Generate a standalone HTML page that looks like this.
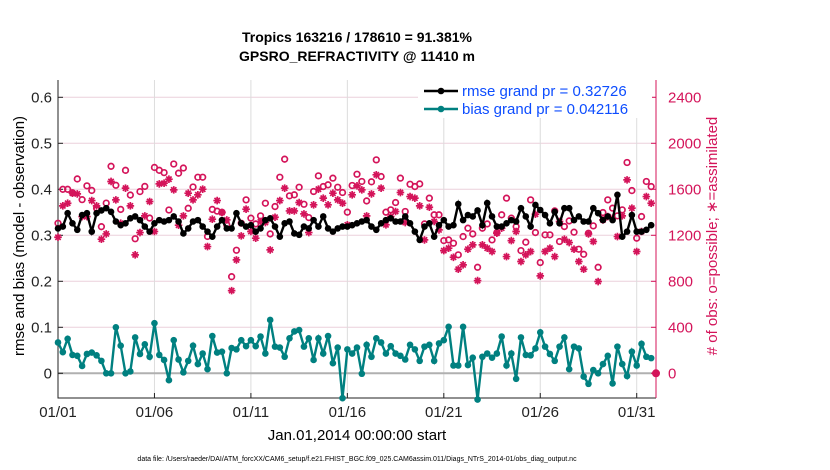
<!DOCTYPE html>
<html><head><meta charset="utf-8"><style>
body{margin:0;background:#fff;}
svg{display:block;font-family:"Liberation Sans",sans-serif;}
</style></head><body>
<svg id="chart" width="830" height="470" viewBox="0 0 830 470" xmlns="http://www.w3.org/2000/svg">
<rect x="0" y="0" width="830" height="470" fill="#fff"/>
<g id="grid"></g><g id="axes"></g><g id="marks"></g><g id="legend"></g>
<text x="357" y="42" text-anchor="middle" font-size="14" font-weight="bold">Tropics 163216 / 178610 = 91.381%</text>
<text x="357" y="61" text-anchor="middle" font-size="14" font-weight="bold">GPSRO_REFRACTIVITY @ 11410 m</text>
<text transform="translate(24,236) rotate(-90)" text-anchor="middle" font-size="15">rmse and bias (model - observation)</text>
<text transform="translate(717,236) rotate(-90)" text-anchor="middle" font-size="15" fill="#d4145a"># of obs: o=possible; ∗=assimilated</text>
<text x="357" y="440" text-anchor="middle" font-size="15">Jan.01,2014 00:00:00 start</text>
<text x="357" y="461" text-anchor="middle" font-size="7">data file: /Users/raeder/DAI/ATM_forcXX/CAM6_setup/f.e21.FHIST_BGC.f09_025.CAM6assim.011/Diags_NTrS_2014-01/obs_diag_output.nc</text>
</svg>
<script>
const rmse=[.315,.319,.348,.326,.312,.344,.348,.308,.348,.354,.359,.351,.330,.322,.326,.337,.341,.333,.319,.308,.326,.333,.330,.333,.341,.330,.304,.315,.330,.333,.319,.308,.297,.319,.333,.315,.315,.348,
.326,.319,.322,.308,.315,.333,.337,.319,.297,.326,.330,.304,.301,.319,.315,.333,.319,.341,.315,.308,.315,.319,.319,.322,.326,.330,.333,.319,.312,.326,.333,.337,.330,.330,.341,.326,.308,.290,.319,.326,.297,.322,.333,.319,
.322,.368,.333,.344,.341,.354,.322,.370,.341,.319,.319,.326,.333,.330,.359,.341,.319,.366,.355,.344,.326,.351,.326,.359,.359,.333,.341,.330,.330,.359,.348,.333,.341,.333,.388,.297,.308,.344,.308,.308,.312,.322];
const bias=[0.067,0.046,0.075,0.040,0.038,0.016,0.042,0.045,0.039,0.027,0.0,0.0,0.100,0.060,0.0,0.004,0.078,0.042,0.063,0.036,0.109,0.040,0.029,-0.015,0.072,0.030,0.002,0.027,0.060,0.020,0.043,0.009,0.081,0.045,0.047,0.0,0.055,0.052,
0.072,0.059,0.072,0.059,0.080,0.043,0.116,0.058,0.056,0.036,0.076,0.091,0.094,0.058,0.076,0.029,0.076,0.043,0.081,0.022,0.056,-0.054,0.052,0.043,0.056,-0.001,0.062,0.036,0.076,0.067,0.043,0.059,0.043,0.038,0.030,0.062,0.052,0.027,0.058,0.062,0.027,0.065,0.072,0.101,
0.017,0.017,0.101,0.018,0.034,-0.057,0.036,0.043,0.034,0.043,0.080,0.017,0.043,-0.012,0.078,0.040,0.039,0.054,0.089,0.058,0.042,0.027,0.058,0.078,0.009,0.058,0.054,-0.007,-0.023,0.007,0.0,0.020,0.038,-0.022,0.058,0.020,-0.006,0.047,0.017,0.064,0.036,0.033];
const possible=[1305,1600,1600,1570,1690,1510,1630,1590,1435,1275,1480,1800,1635,1425,1765,1550,1170,1580,1625,1350,1790,1765,1745,1420,1820,1740,1785,1435,1620,1705,1705,1190,1425,1410,1400,1290,840,1070,
1305,1508,1349,1299,1369,1479,1212,1450,1705,1862,1543,1552,1618,1470,1354,1581,1717,1624,1639,1697,1618,1572,1401,1633,1731,1668,1499,1665,1856,1711,1401,1421,1485,1697,1407,1644,1624,1647,1299,1523,1378,1378,1154,1160,
1131,1030,1189,1262,1212,922,1262,1299,1160,1224,1378,1523,1349,1276,1067,1140,1508,1224,963,1204,1204,1412,1146,1276,1325,1227,1079,1035,1218,1282,922,1398,1508,1436,1369,1421,1833,1589,1175,1363,1668,1624];
const assimilated=[1183,1456,1479,1566,1560,1363,1363,1502,1456,1166,1212,1668,1508,1305,1610,1456,1030,1224,1369,1494,1233,1647,1653,1688,1595,1288,1369,1566,1508,1552,1601,1102,1340,1502,1398,1334,719,986,
1195,1427,1233,1175,1320,1311,1073,1357,1502,1610,1412,1412,1485,1386,1224,1465,1601,1523,1465,1566,1508,1479,1291,1552,1630,1595,1369,1560,1726,1610,1291,1363,1407,1572,1311,1537,1523,1456,1160,1444,1320,1247,1067,1088,
1009,905,943,1079,1117,806,1117,1088,1059,1218,1262,1015,1154,1233,972,1030,1059,1383,847,1059,1088,1015,1320,1166,1137,1079,972,905,1212,1146,798,1334,1363,1349,1189,1369,1682,1436,1059,1233,1537,1479];
const xTickDays=[0,5,10,15,20,25,30];
const xTickLabels=["01/01","01/06","01/11","01/16","01/21","01/26","01/31"];
const leftTicks=[0,0.1,0.2,0.3,0.4,0.5,0.6];
const leftTickLabels=["0","0.1","0.2","0.3","0.4","0.5","0.6"];
const rightTicks=[0,400,800,1200,1600,2000,2400];

const NS="http://www.w3.org/2000/svg";
const X0=58,X1=656,Y0=80,Y1=398,MAG="#d4145a",TEAL="#008080";
const xs=d=>X0+d*(X1-X0)/31;
const yl=v=>373.3-v*460;
const yr=c=>yl(c/4000);
const dayOf=i=>i*0.25;
function mk(tag,attrs,parent){const e=document.createElementNS(NS,tag);for(const k in attrs)e.setAttribute(k,attrs[k]);parent.appendChild(e);return e;}
const grid=document.getElementById('grid'),axes=document.getElementById('axes'),marks=document.getElementById('marks'),legend=document.getElementById('legend');

leftTicks.forEach((v,i)=>{
  const g=mk('line',{x1:X0,x2:X1,y1:yl(v),y2:yl(v),stroke:"#ecd0dc","stroke-width":1},grid);
  
  
  const t=mk('text',{x:X0-6,y:yl(v)+5,"text-anchor":"end","font-size":15,fill:"#222"},axes);
  t.textContent=leftTickLabels[i];
  
  
  const tk=mk('line',{x1:X0,x2:X0+5,y1:yl(v),y2:yl(v),stroke:"#222"},axes);
  
  
});
rightTicks.forEach(c=>{
  const t=mk('text',{x:X1+12,y:yr(c)+5,"font-size":15,fill:MAG},axes);
  t.textContent=String(c);
  
  
  const tk=mk('line',{x1:X1-5,x2:X1,y1:yr(c),y2:yr(c),stroke:MAG},axes);
  
  
});
xTickDays.forEach((d,i)=>{
  const g=mk('line',{x1:xs(d),x2:xs(d),y1:Y0,y2:Y1,stroke:"#dcdcdc","stroke-width":1},grid);
  
  
  const tk=mk('line',{x1:xs(d),x2:xs(d),y1:Y1,y2:Y1-5,stroke:"#222"},axes);
  
  
  const t=mk('text',{x:xs(d),y:417,"text-anchor":"middle","font-size":15,fill:"#222"},axes);
  t.textContent=xTickLabels[i];
  
  
});
const zl=mk('line',{x1:X0,x2:X1,y1:yl(0),y2:yl(0),stroke:"#b0b0b0","stroke-width":2},grid);


const la=mk('path',{d:`M${X0},${Y0}V${Y1}H${X1}`,fill:"none",stroke:"#222","stroke-width":1},axes);


const ra=mk('line',{x1:X1,x2:X1,y1:Y0,y2:Y1,stroke:MAG,"stroke-width":1},axes);



possible.forEach((c,i)=>{
  const e=mk('circle',{cx:xs(dayOf(i)),cy:yr(c),r:2.8,fill:"none",stroke:MAG,"stroke-width":1.7},marks);
  
  
});
assimilated.forEach((c,i)=>{
  const x=xs(dayOf(i)),y=yr(c),r=3.8;
  const d=`M${x-r},${y}H${x+r}M${x},${y-r}V${y+r}M${x-r*.7},${y-r*.7}L${x+r*.7},${y+r*.7}M${x-r*.7},${y+r*.7}L${x+r*.7},${y-r*.7}`;
  const e=mk('path',{d:d,stroke:MAG,"stroke-width":1.7,fill:"none"},marks);
  
  
});
function series(vals,color,name){
  const pts=vals.map((v,i)=>`${xs(dayOf(i)).toFixed(1)},${yl(v).toFixed(1)}`).join(' ');
  const pl=mk('polyline',{points:pts,fill:"none",stroke:color,"stroke-width":2.4},marks);
  
  
  vals.forEach((v,i)=>{
    const c=mk('circle',{cx:xs(dayOf(i)),cy:yl(v),r:3.3,fill:color},marks);
    
    
  });
}
series(bias,TEAL,'bias');
series(rmse,"#000",'rmse');
const endDot=mk('circle',{cx:X1,cy:yl(0),r:4,fill:MAG},marks);



const lb=mk('rect',{x:418,y:80,width:234,height:38,fill:"#fff"},legend);


[["rmse grand pr = 0.32726","#000",91,'legend-entry-rmse'],["bias grand pr = 0.042116",TEAL,109,'legend-entry-bias']].forEach(a=>{
  const l=mk('line',{x1:424,x2:458,y1:a[2],y2:a[2],stroke:a[1],"stroke-width":2.4},legend);
  
  
  const c=mk('circle',{cx:441,cy:a[2],r:3.3,fill:a[1]},legend);
  
  
  const t=mk('text',{x:462,y:a[2]+5,"font-size":15,fill:"#0d4dff"},legend);
  t.textContent=a[0];
  
  
});
</script>
</body></html>
